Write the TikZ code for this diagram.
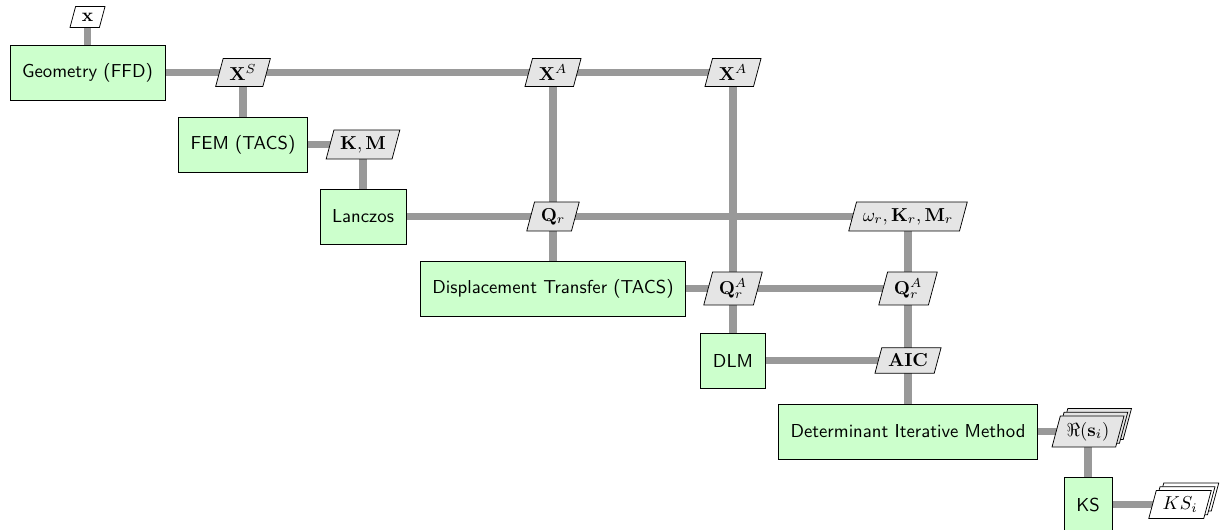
\documentclass[tikz,border=0pt]{standalone}
\usetikzlibrary{shapes.geometric,shadows,backgrounds}
\begin{document}
\begin{tikzpicture}[x=0.534pt,y=-0.534pt,
  func/.style={rectangle, draw=black, fill=green!20, font=\sffamily, inner xsep=6.5pt, minimum height=29.4pt, line width=0.4pt},
  dataio/.style={trapezium, trapezium left angle=75, trapezium right angle=105, draw=black, fill=black!10, inner sep=0.3333em},
  datain/.style={dataio, fill=white},
  stack/.style={double copy shadow={shadow xshift=2pt, shadow yshift=2pt}},
  dline/.style={line width=4pt, draw=black!40}]
\useasboundingbox (0,0) rectangle (1224,529);
% row 0
\node[datain] (inx) at (87.5,17) {$\mathbf{x}$};
% row 1
\node[func] (geo) at (87.5,72.5) {Geometry (FFD)};
\node[dataio] (xs) at (243,72.5) {$\mathbf{X}^S$};
\node[dataio] (xa1) at (553,72.5) {$\mathbf{X}^A$};
\node[dataio] (xa2) at (733,72.5) {$\mathbf{X}^A$};
% row 2
\node[func] (fem) at (243,144.5) {FEM (TACS)};
\node[dataio] (km) at (363,144.5) {$\mathbf{K},\mathbf{M}$};
% row 3
\node[func] (lan) at (363,216.5) {Lanczos};
\node[dataio] (qr) at (553,216.5) {$\mathbf{Q}_r$};
\node[dataio] (omr) at (908,216.5) {$\omega_r,\mathbf{K}_r,\mathbf{M}_r$};
% row 4
\node[func] (disp) at (553,288.5) {Displacement Transfer (TACS)};
\node[dataio] (qra1) at (733,288.5) {$\mathbf{Q}_r^A$};
\node[dataio] (qra2) at (908,288.5) {$\mathbf{Q}_r^A$};
% row 5
\node[func] (dlm) at (733,360.5) {DLM};
\node[dataio] (aic) at (908,360.5) {$\mathbf{AIC}$};
% row 6
\node[func] (det) at (908,431.5) {Determinant Iterative Method};
\node[dataio,stack] (res) at (1088,431.5) {$\Re(\mathbf{s}_i)$};
% row 7
\node[func] (ks) at (1088,504.5) {KS};
\node[datain,stack] (ksi) at (1180,504.5) {$KS_i$};
\begin{pgfonlayer}{background}
\draw[dline] (inx.center) -- (geo.center);
\draw[dline] (geo.center) -- (xa2.center);
\draw[dline] (xs.center) -- (fem.center);
\draw[dline] (fem.center) -- (km.center);
\draw[dline] (km.center) -- (lan.center);
\draw[dline] (lan.center) -- (omr.center);
\draw[dline] (xa1.center) -- (disp.center);
\draw[dline] (xa2.center) -- (dlm.center);
\draw[dline] (disp.center) -- (qra2.center);
\draw[dline] (dlm.center) -- (aic.center);
\draw[dline] (omr.center) -- (det.center);
\draw[dline] (det.center) -- (res.center);
\draw[dline] (res.center) -- (ks.center);
\draw[dline] (ks.center) -- (ksi.center);
\end{pgfonlayer}
\end{tikzpicture}
\end{document}
